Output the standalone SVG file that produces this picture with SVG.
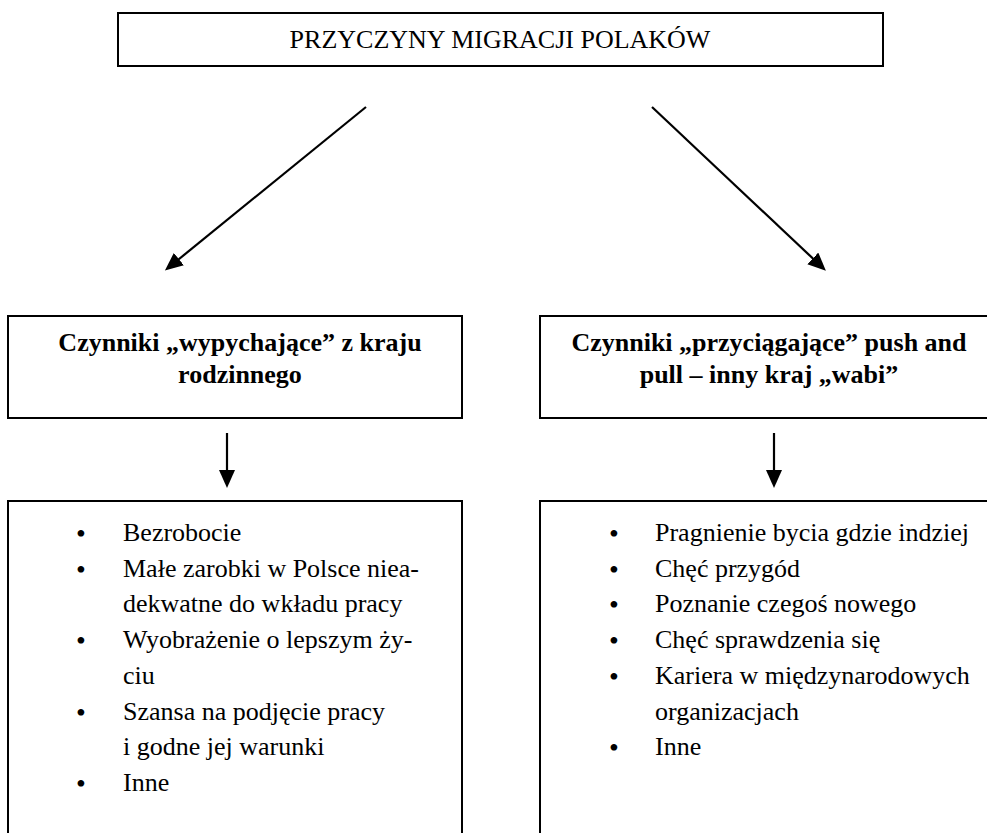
<svg xmlns="http://www.w3.org/2000/svg" width="987" height="833" viewBox="0 0 987 833">
<defs>
<marker id="ah" markerUnits="userSpaceOnUse" markerWidth="20" markerHeight="18" refX="14" refY="8" orient="auto">
<path d="M0,0 L18,8 L0,16 z" fill="#000"/>
</marker>
<style>
.box{fill:#fff;stroke:#000;stroke-width:2}
.open{fill:none;stroke:#000;stroke-width:2}
.conn{stroke:#000;stroke-width:2.2;fill:none;marker-end:url(#ah)}
text{font-family:"Liberation Serif","Times New Roman",serif;font-size:26px;fill:#000}
.title{text-anchor:middle}
.h{font-weight:bold;text-anchor:middle}
.b{font-size:28px}
</style>
</defs>
<rect width="987" height="833" fill="#fff"/>
<g id="title">
<rect class="box" x="118" y="13" width="765" height="53"/>
<text class="title" x="500" y="48">PRZYCZYNY MIGRACJI POLAKÓW</text>
</g>
<g id="push-header">
<rect class="box" x="8" y="316" width="454" height="102"/>
<text class="h" x="240" y="351">Czynniki „wypychające” z kraju</text>
<text class="h" x="240" y="383">rodzinnego</text>
</g>
<g id="pull-header">
<rect class="box" x="540" y="316" width="460" height="102"/>
<text class="h" x="769" y="351">Czynniki „przyciągające” push and</text>
<text class="h" x="769" y="383">pull – inny kraj „wabi”</text>
</g>
<g id="push-list">
<path class="open" d="M8,840 V501 H462 V840"/>
<text class="b" x="76" y="543">•</text><text x="123" y="541">Bezrobocie</text>
<text class="b" x="76" y="579">•</text><text x="123" y="577">Małe zarobki w Polsce niea-</text>
<text x="123" y="612">dekwatne do wkładu pracy</text>
<text class="b" x="76" y="650">•</text><text x="123" y="648">Wyobrażenie o lepszym ży-</text>
<text x="123" y="684">ciu</text>
<text class="b" x="76" y="722">•</text><text x="123" y="720">Szansa na podjęcie pracy</text>
<text x="123" y="755">i godne jej warunki</text>
<text class="b" x="76" y="793">•</text><text x="123" y="791">Inne</text>
</g>
<g id="pull-list">
<path class="open" d="M540,840 V501 H1000"/>
<text class="b" x="609" y="543">•</text><text x="655" y="541">Pragnienie bycia gdzie indziej</text>
<text class="b" x="609" y="579">•</text><text x="655" y="577">Chęć przygód</text>
<text class="b" x="609" y="614">•</text><text x="655" y="612">Poznanie czegoś nowego</text>
<text class="b" x="609" y="650">•</text><text x="655" y="648">Chęć sprawdzenia się</text>
<text class="b" x="609" y="686">•</text><text x="655" y="684">Kariera w międzynarodowych</text>
<text x="655" y="720">organizacjach</text>
<text class="b" x="609" y="757">•</text><text x="655" y="755">Inne</text>
</g>
<g id="connectors">
<line class="conn" x1="366" y1="107" x2="168" y2="268"/>
<line class="conn" x1="652" y1="107" x2="823" y2="268"/>
<line class="conn" x1="227" y1="433" x2="227" y2="484"/>
<line class="conn" x1="774" y1="433" x2="774" y2="484"/>
</g>
</svg>
